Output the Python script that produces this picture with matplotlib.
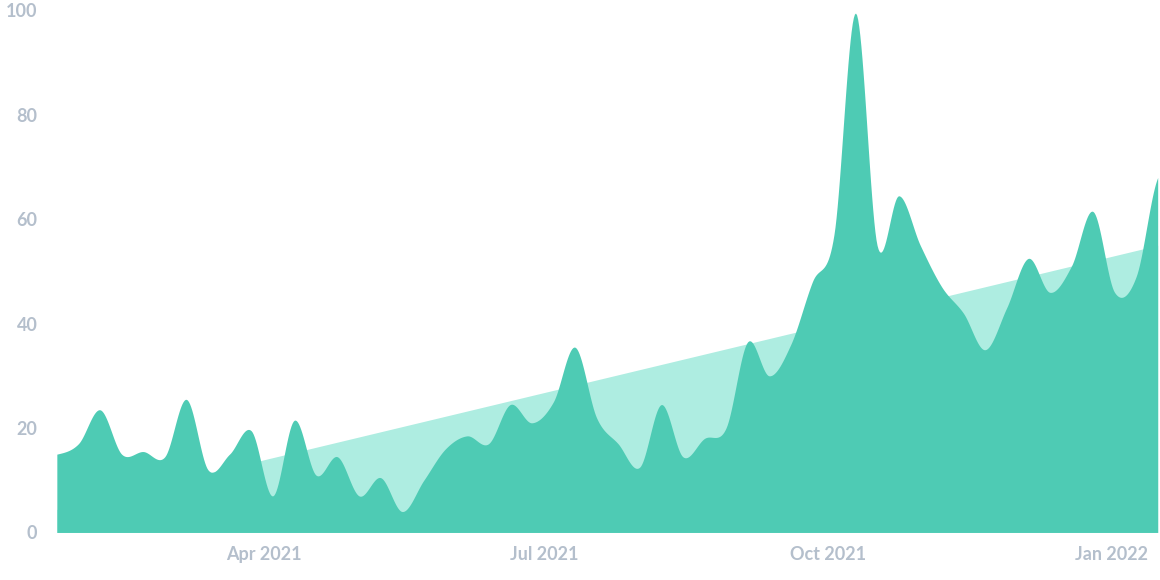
import numpy as np, pandas as pd, matplotlib
matplotlib.use("Agg")
import matplotlib.pyplot as plt
import matplotlib.dates as mdates

values = [15,17,23.5,15,15.5,14.5,25.5,12,15,19.5,7,21.5,11,14.5,7,10.5,4,10,16,18.5,17,24.5,21,25,35.5,22,17,12.5,24.5,14.5,18,20,36.5,30,36,48,57,99.5,55,64.5,55,47,42,35,43,52.5,46,51,61.5,46,49,68]
dates = pd.date_range("2021-01-24", periods=len(values), freq="7D")
trend_start, trend_end = 4.4, 55

# smooth curve (Catmull-Rom) for drawing
t = mdates.date2num(dates); y = np.array(values, float)
xs, ys = [], []
for i in range(len(y)-1):
    p0 = y[max(i-1,0)]; p1=y[i]; p2=y[i+1]; p3=y[min(i+2,len(y)-1)]
    s = np.linspace(0,1,20,endpoint=False)
    ys.extend(0.5*((2*p1)+(-p0+p2)*s+(2*p0-5*p1+4*p2-p3)*s**2+(-p0+3*p1-3*p2+p3)*s**3))
    xs.extend(t[i]+(t[i+1]-t[i])*s)
xs.append(t[-1]); ys.append(y[-1])
xs=np.array(xs); ys=np.clip(np.array(ys),0,None)
trend = trend_start+(trend_end-trend_start)*(xs-xs[0])/(xs[-1]-xs[0])

fig = plt.figure(figsize=(11.6,5.8), dpi=100)
ax = fig.add_axes([0.049,0.082,0.949,0.9])
ax.fill_between(xs, 0, trend, color="#aeede1", lw=0)
ax.fill_between(xs, 0, ys, color="#4ecbb4", lw=0)
ax.set_xlim(xs[0], xs[-1]); ax.set_ylim(0,100)
ax.set_yticks(range(0,101,20))
ax.xaxis.set_major_locator(mdates.MonthLocator(bymonth=[1,4,7,10]))
ax.xaxis.set_major_formatter(mdates.DateFormatter("%b %Y"))
for s in ax.spines.values(): s.set_visible(False)
ax.tick_params(length=0, colors="#b4bfcc", labelsize=13, pad=10)
for lab in ax.get_xticklabels()+ax.get_yticklabels():
    lab.set_fontweight("bold"); lab.set_family("Lato")
ax.tick_params(axis="y", pad=14)
fig.savefig("out.png")
